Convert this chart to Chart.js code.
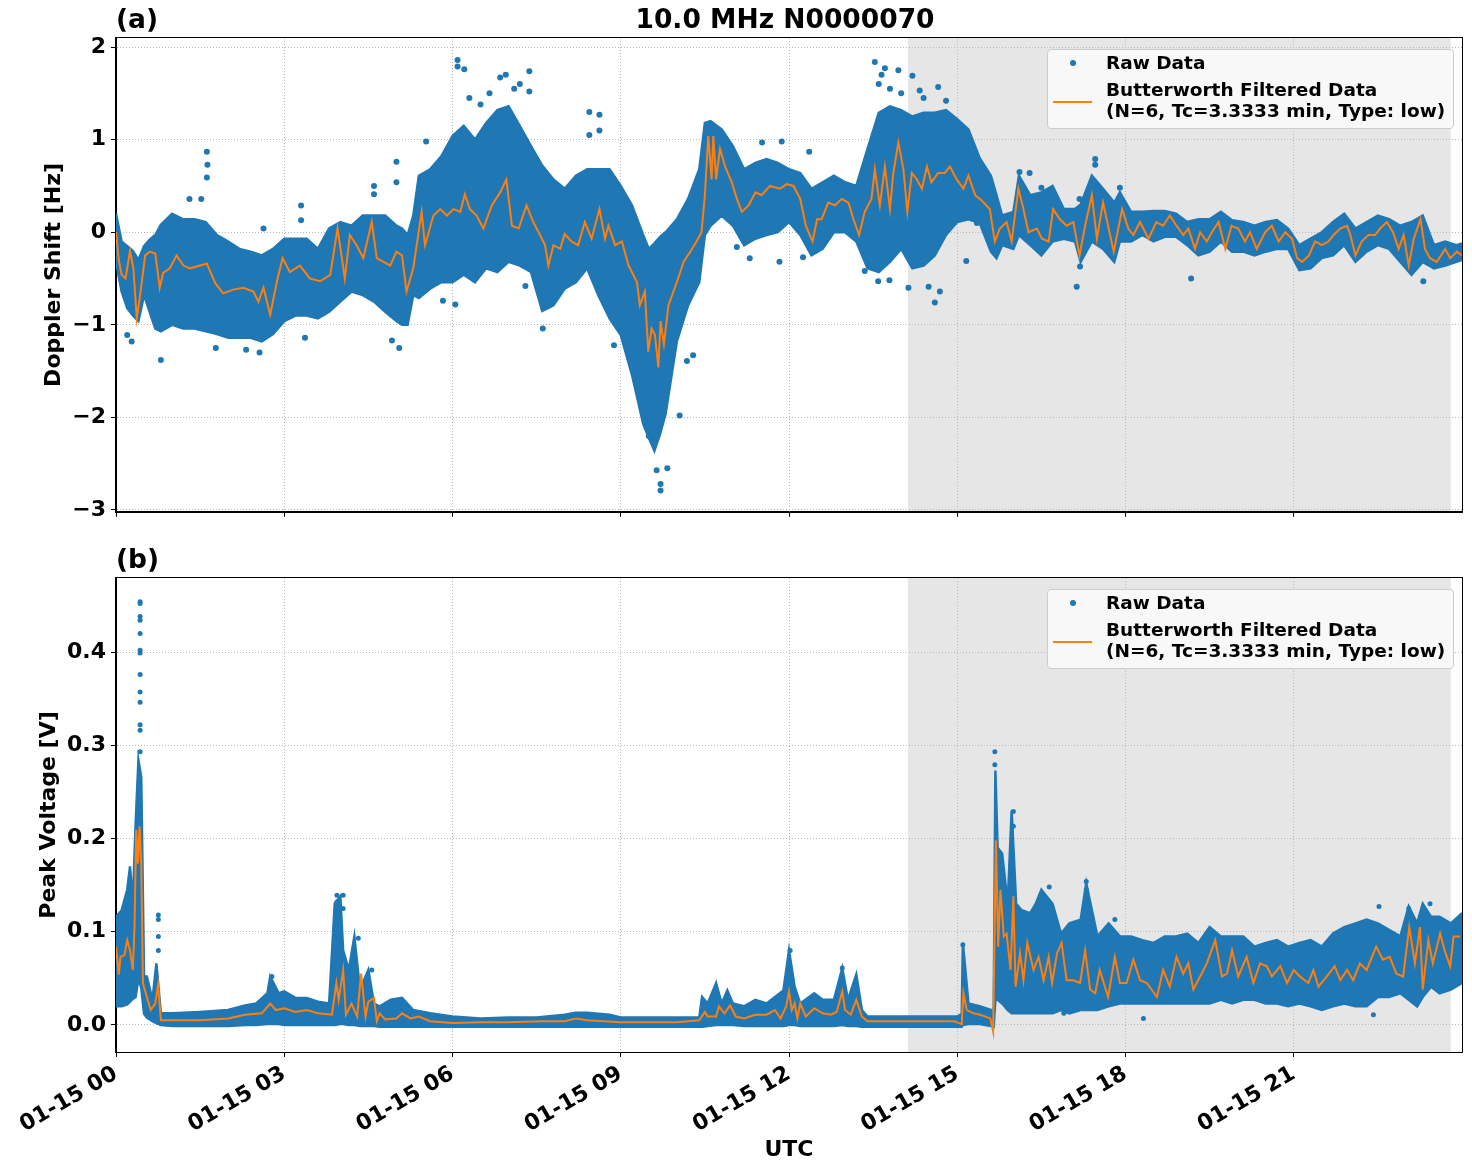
<!DOCTYPE html>
<html><head><meta charset="utf-8">
<script src="https://cdn.jsdelivr.net/npm/chart.js@4.4.1/dist/chart.umd.min.js"></script>
<style>
html,body{margin:0;padding:0;background:#fff;}
body{width:1472px;height:1172px;position:relative;overflow:hidden;font-family:"DejaVu Sans",sans-serif;}
canvas{position:absolute;left:0;}
#ca{top:0;}
#cb{top:540px;}
.t{position:absolute;font-weight:bold;color:#000;white-space:nowrap;font-size:26.5px;line-height:26.5px;}
.leg{position:absolute;left:1047px;width:405px;height:78px;background:rgba(250,250,250,0.85);border:1px solid #cccccc;border-radius:4px;}
.lt{position:absolute;left:1106px;font-weight:bold;font-size:18.5px;line-height:18.5px;white-space:nowrap;color:#000;}
.ld{position:absolute;left:1070px;width:6px;height:6px;border-radius:50%;background:#1f77b4;}
.ll{position:absolute;left:1053px;width:39px;height:2px;background:#ff7f0e;}
</style></head>
<body>
<canvas id="ca" width="1472" height="530"></canvas>
<canvas id="cb" width="1472" height="632"></canvas>
<div class="t" style="left:116px;top:6px;">(a)</div>
<div class="t" style="left:785px;top:6px;transform:translateX(-50%);">10.0 MHz N0000070</div>
<div class="t" style="left:116px;top:546px;">(b)</div>

<div class="leg" style="top:49px;"></div>
<div class="ld" style="top:60px;"></div>
<div class="lt" style="top:53.6px;">Raw Data</div>
<div class="ll" style="top:101px;"></div>
<div class="lt" style="top:81px;">Butterworth Filtered Data</div>
<div class="lt" style="top:101.8px;">(N=6, Tc=3.3333 min, Type: low)</div>

<div class="leg" style="top:589px;"></div>
<div class="ld" style="top:600px;"></div>
<div class="lt" style="top:593.6px;">Raw Data</div>
<div class="ll" style="top:641px;"></div>
<div class="lt" style="top:621px;">Butterworth Filtered Data</div>
<div class="lt" style="top:641.8px;">(N=6, Tc=3.3333 min, Type: low)</div>

<script>
// ---------- axis / tick definitions ----------
const X_TICKS = [0, 3, 6, 9, 12, 15, 18, 21];
const X_MIN = 0, X_MAX = 24;
const TOP_YTICKS = [-3, -2, -1, 0, 1, 2];
const TOP_YMIN = -3.02, TOP_YMAX = 2.098;
const BOT_YTICKS = [0, 0.1, 0.2, 0.3, 0.4];
const BOT_YMIN = -0.029, BOT_YMAX = 0.4794;
const SHADE_START = 14.12, SHADE_END = 23.8;

// ---------- panel (a): Doppler shift ----------
// raw-data cloud envelope (hours UTC, upper edge, lower edge)
const TOP_T  = [0,0.1,0.2,0.3,0.4,0.5,0.6,0.7,0.8,1.0,1.2,1.4,1.6,1.8,2.0,2.2,2.4,2.6,2.8,3.0,3.2,3.4,3.6,3.8,4.0,4.2,4.4,4.6,4.8,5.0,5.1,5.2,5.3,5.4,5.6,5.8,6.0,6.2,6.4,6.6,6.8,7.0,7.2,7.4,7.6,7.8,8.0,8.2,8.4,8.6,8.8,9.0,9.2,9.4,9.5,9.6,9.7,9.8,9.9,10.0,10.2,10.4,10.5,10.6,10.8,11.0,11.2,11.4,11.6,11.8,12.0,12.2,12.4,12.6,12.8,13.0,13.2,13.4,13.6,13.8,14.0,14.2,14.4,14.6,14.8,15.0,15.2,15.4,15.6,15.7,15.8,16.0,16.1,16.3,16.5,16.7,16.9,17.1,17.2,17.4,17.6,17.8,17.9,18.1,18.3,18.5,18.7,18.9,19.1,19.3,19.5,19.7,19.9,20.1,20.3,20.5,20.7,20.9,21.1,21.3,21.5,21.7,21.9,22.1,22.3,22.5,22.7,22.9,23.1,23.3,23.5,23.7,23.9,24.0];
const TOP_UP = [0.20,-0.10,-0.15,-0.20,-0.30,-0.15,-0.08,-0.03,0.08,0.20,0.14,0.14,0.11,-0.03,-0.10,-0.18,-0.21,-0.25,-0.18,-0.07,-0.07,-0.07,-0.18,0.04,0.11,0.07,0.18,0.18,0.18,0.07,0.04,-0.03,0.18,0.61,0.68,0.82,1.04,1.15,1.00,1.18,1.32,1.36,1.15,0.93,0.72,0.57,0.47,0.61,0.68,0.68,0.68,0.50,0.29,-0.03,-0.18,-0.12,-0.05,0.00,0.07,0.14,0.36,0.68,1.18,1.20,1.11,0.93,0.68,0.75,0.79,0.75,0.68,0.64,0.47,0.54,0.61,0.54,0.50,0.90,1.29,1.36,1.32,1.25,1.29,1.29,1.32,1.22,1.11,0.80,0.61,0.40,0.18,0.22,0.61,0.40,0.43,0.50,0.25,0.25,0.30,0.61,0.47,0.32,0.43,0.22,0.22,0.23,0.23,0.20,0.11,0.14,0.14,0.22,0.13,0.11,0.07,0.11,0.13,0.04,-0.14,-0.07,0.00,0.11,0.20,0.04,0.11,0.18,0.14,0.07,0.11,0.18,-0.14,-0.10,-0.14,-0.12];
const TOP_LO = [-0.32,-0.64,-0.82,-0.90,-0.96,-0.68,-0.86,-1.04,-1.07,-1.00,-1.04,-1.04,-1.07,-1.10,-1.14,-1.14,-1.14,-1.18,-1.10,-0.96,-0.90,-0.90,-0.93,-0.86,-0.75,-0.64,-0.68,-0.75,-0.86,-0.96,-1.00,-1.00,-0.68,-0.71,-0.61,-0.54,-0.54,-0.46,-0.54,-0.39,-0.43,-0.32,-0.36,-0.43,-0.85,-0.79,-0.61,-0.54,-0.39,-0.68,-0.93,-1.11,-1.54,-2.07,-2.22,-2.36,-2.18,-1.96,-1.57,-1.18,-0.79,-0.54,-0.03,0.07,0.18,0.07,-0.14,-0.07,-0.03,0.00,0.11,-0.03,-0.25,-0.18,0.00,0.00,-0.10,-0.39,-0.43,-0.32,-0.18,-0.39,-0.36,-0.25,-0.03,0.11,0.14,0.10,-0.21,-0.28,-0.14,-0.18,-0.03,-0.14,-0.25,-0.10,-0.07,-0.10,-0.32,-0.10,-0.18,-0.32,-0.10,-0.10,-0.03,-0.10,-0.05,-0.05,-0.14,-0.25,-0.21,-0.10,-0.21,-0.21,-0.25,-0.21,-0.18,-0.18,-0.41,-0.39,-0.28,-0.25,-0.14,-0.32,-0.21,-0.14,-0.18,-0.32,-0.46,-0.32,-0.39,-0.36,-0.32,-0.30];
// isolated raw points outside the dense cloud
const TOP_OUT_T = [1.62,1.63,1.62,1.31,1.52,0.8,0.28,0.2,5.0,5.0,4.6,4.6,3.3,3.3,2.63,4.92,5.05,2.56,2.32,1.78,3.37,6.09,6.09,6.21,7.37,7.37,6.95,6.85,6.66,5.53,6.05,5.83,7.61,7.3,6.3,6.5,7.1,7.2,8.44,8.62,8.44,8.62,8.88,9.71,9.71,9.64,9.83,9.5,10.05,10.29,10.18,11.07,11.3,11.83,12.25,11.52,11.87,12.36,13.53,13.71,13.95,14.2,14.66,14.33,13.6,13.8,14.0,14.4,14.8,13.65,13.59,13.79,14.13,14.6,14.69,14.49,15.16,15.35,13.35,17.46,17.46,17.9,17.13,16.29,16.11,19.17,23.31,17.18,17.19,16.5];
const TOP_OUT_V = [0.87,0.73,0.59,0.36,0.36,-1.38,-1.18,-1.11,0.76,0.54,0.5,0.41,0.29,0.13,0.04,-1.17,-1.25,-1.3,-1.27,-1.25,-1.14,1.86,1.79,1.76,1.74,1.52,1.7,1.67,1.5,0.98,-0.78,-0.74,-1.04,-0.58,1.45,1.38,1.55,1.6,1.3,1.27,1.05,1.1,-1.22,-2.79,-2.72,-2.57,-2.55,-2.2,-1.98,-1.33,-1.39,-0.16,-0.28,-0.32,-0.27,0.97,0.98,0.87,1.84,1.77,1.75,1.69,1.57,1.53,1.6,1.55,1.5,1.45,1.42,1.7,-0.53,-0.52,-0.6,-0.76,-0.64,-0.59,-0.31,0.1,-0.42,0.79,0.73,0.48,-0.59,0.64,0.65,-0.5,-0.53,0.36,-0.37,0.48];
// Butterworth filtered series
const TOP_FILT_T = [0,0.05,0.1,0.17,0.25,0.31,0.37,0.43,0.52,0.6,0.7,0.78,0.84,0.96,1.08,1.2,1.32,1.5,1.62,1.77,1.91,2.09,2.27,2.45,2.54,2.63,2.75,2.87,2.97,3.1,3.28,3.46,3.64,3.82,3.95,4.08,4.17,4.29,4.41,4.56,4.65,4.77,4.89,5.0,5.1,5.18,5.3,5.45,5.51,5.66,5.78,5.9,6.02,6.14,6.22,6.31,6.43,6.55,6.7,6.85,6.96,7.06,7.18,7.32,7.44,7.56,7.65,7.71,7.8,7.92,8.0,8.12,8.24,8.36,8.48,8.62,8.72,8.78,8.9,9.02,9.14,9.29,9.34,9.43,9.49,9.55,9.61,9.67,9.71,9.77,9.85,9.94,10.0,10.12,10.24,10.35,10.44,10.5,10.56,10.62,10.65,10.7,10.77,10.86,10.98,11.07,11.16,11.28,11.4,11.51,11.66,11.84,11.96,12.08,12.2,12.3,12.42,12.5,12.58,12.7,12.82,12.94,13.06,13.15,13.25,13.35,13.47,13.53,13.62,13.71,13.8,13.86,13.95,14.04,14.11,14.19,14.28,14.37,14.46,14.54,14.66,14.78,14.87,14.99,15.11,15.2,15.32,15.44,15.58,15.67,15.76,15.88,15.97,16.09,16.18,16.27,16.42,16.51,16.63,16.71,16.83,16.95,17.07,17.18,17.28,17.4,17.49,17.6,17.7,17.79,17.94,18.05,18.14,18.26,18.41,18.55,18.67,18.79,18.91,19.03,19.12,19.24,19.33,19.45,19.54,19.66,19.78,19.89,20.01,20.13,20.22,20.34,20.49,20.61,20.73,20.85,20.97,21.06,21.15,21.27,21.38,21.5,21.62,21.71,21.83,21.95,22.01,22.1,22.21,22.33,22.45,22.54,22.66,22.77,22.87,22.96,23.05,23.14,23.26,23.34,23.43,23.55,23.7,23.79,23.91,24.0];
const TOP_FILT = [0.0,-0.3,-0.46,-0.5,-0.2,-0.39,-0.93,-0.68,-0.25,-0.21,-0.23,-0.6,-0.44,-0.39,-0.25,-0.36,-0.39,-0.36,-0.34,-0.55,-0.66,-0.62,-0.6,-0.64,-0.75,-0.6,-0.89,-0.53,-0.28,-0.43,-0.36,-0.5,-0.53,-0.46,0.04,-0.5,-0.03,-0.14,-0.28,0.11,-0.28,-0.32,-0.36,-0.21,-0.25,-0.64,-0.39,0.22,-0.14,0.18,0.25,0.18,0.25,0.22,0.41,0.25,0.18,0.04,0.29,0.43,0.57,0.07,0.04,0.29,0.11,-0.03,-0.14,-0.36,-0.14,-0.18,-0.02,-0.1,-0.14,0.11,-0.07,0.25,-0.07,0.07,-0.14,-0.1,-0.36,-0.54,-0.79,-0.64,-1.29,-1.04,-1.11,-1.46,-0.96,-1.21,-0.79,-0.64,-0.54,-0.32,-0.21,-0.1,0.0,0.4,1.04,0.57,1.04,0.57,0.9,0.71,0.54,0.36,0.22,0.29,0.43,0.4,0.5,0.47,0.52,0.5,0.36,0.07,-0.1,0.14,0.14,0.32,0.29,0.36,0.32,0.14,-0.03,0.22,0.36,0.68,0.29,0.71,0.25,0.64,0.97,0.68,0.22,0.64,0.57,0.47,0.71,0.54,0.64,0.64,0.71,0.57,0.47,0.61,0.4,0.34,0.25,-0.1,0.04,0.11,-0.1,0.47,0.25,0.0,0.04,-0.07,-0.1,0.25,0.14,0.07,0.11,-0.25,0.07,0.4,-0.07,0.32,0.04,-0.21,0.25,0.04,-0.03,0.11,-0.07,0.11,0.07,0.18,0.07,-0.03,0.04,-0.18,0.0,-0.1,0.0,0.11,-0.18,0.07,0.04,-0.1,0.0,-0.18,0.0,0.07,-0.1,0.0,-0.07,-0.28,-0.32,-0.25,-0.1,-0.14,-0.1,-0.03,0.04,0.07,-0.03,-0.25,-0.1,-0.03,-0.03,0.04,0.11,0.0,-0.18,-0.03,-0.36,-0.07,0.14,-0.18,-0.28,-0.32,-0.18,-0.28,-0.21,-0.25];

// ---------- panel (b): peak voltage ----------
const BOT_T  = [0,0.1,0.2,0.25,0.3,0.35,0.4,0.45,0.5,0.55,0.65,0.72,0.8,1.0,1.5,2.0,2.3,2.5,2.7,2.75,2.9,3.0,3.2,3.4,3.6,3.8,3.9,4.0,4.05,4.15,4.25,4.35,4.5,4.6,4.7,4.9,5.1,5.3,5.6,6.0,6.5,7.0,7.5,8.0,8.2,8.4,8.8,9.0,10.4,10.45,10.55,10.7,10.8,10.9,11.0,11.2,11.4,11.6,11.75,11.9,12.0,12.1,12.2,12.45,12.6,12.8,12.95,13.05,13.2,13.3,13.4,15.0,15.08,15.1,15.2,15.4,15.6,15.65,15.68,15.72,15.8,15.9,15.97,16.05,16.15,16.3,16.4,16.5,16.7,16.85,17.0,17.2,17.3,17.5,17.7,17.9,18.1,18.3,18.5,18.7,18.9,19.1,19.3,19.5,19.7,19.9,20.1,20.3,20.5,20.7,20.9,21.1,21.3,21.5,21.7,21.9,22.1,22.3,22.5,22.7,22.9,23.05,23.2,23.3,23.45,23.6,23.8,24.0];
const BOT_UP = [0.116,0.123,0.145,0.170,0.130,0.216,0.284,0.266,0.052,0.052,0.027,0.066,0.0125,0.0125,0.014,0.016,0.021,0.023,0.034,0.052,0.034,0.036,0.029,0.029,0.025,0.023,0.130,0.138,0.080,0.059,0.095,0.038,0.059,0.023,0.020,0.027,0.029,0.016,0.0125,0.009,0.007,0.008,0.008,0.011,0.013,0.013,0.011,0.008,0.008,0.030,0.023,0.045,0.023,0.037,0.023,0.020,0.027,0.023,0.030,0.037,0.080,0.041,0.023,0.034,0.027,0.027,0.061,0.027,0.054,0.016,0.009,0.009,0.012,0.088,0.023,0.020,0.016,0.016,0.273,0.190,0.184,0.130,0.230,0.130,0.123,0.120,0.130,0.145,0.130,0.098,0.109,0.113,0.152,0.095,0.109,0.095,0.095,0.091,0.088,0.095,0.095,0.098,0.088,0.105,0.095,0.095,0.095,0.084,0.088,0.091,0.084,0.088,0.091,0.084,0.098,0.105,0.109,0.113,0.109,0.102,0.095,0.127,0.109,0.130,0.116,0.116,0.109,0.120];
const BOT_LO = [0.020,0.020,0.022,0.025,0.028,0.030,0.050,0.040,0.012,0.008,0.004,0.002,0.000,-0.001,-0.001,-0.001,0.000,0.000,0.001,0.001,0.001,0.000,0.000,0.000,0.000,0.000,0.000,0.001,0.001,0.000,0.000,-0.001,-0.001,-0.001,-0.002,-0.002,-0.002,-0.002,-0.002,-0.002,-0.002,-0.002,-0.002,-0.002,-0.002,-0.002,-0.002,-0.002,-0.002,-0.002,-0.001,0.000,0.000,0.000,0.000,-0.001,-0.001,-0.001,-0.001,-0.001,0.000,0.000,-0.001,-0.001,-0.001,-0.001,0.000,-0.001,-0.001,-0.002,-0.002,-0.002,-0.002,0.000,0.001,0.001,-0.001,-0.002,0.027,0.027,0.023,0.016,0.0125,0.0125,0.0125,0.0125,0.0125,0.0125,0.0125,0.016,0.0125,0.016,0.016,0.016,0.020,0.023,0.023,0.023,0.023,0.023,0.023,0.023,0.023,0.023,0.027,0.023,0.027,0.027,0.023,0.023,0.020,0.023,0.020,0.016,0.020,0.023,0.020,0.020,0.030,0.030,0.034,0.027,0.020,0.030,0.041,0.034,0.038,0.045];
const BOT_OUT_T = [0.43,0.43,0.43,0.43,0.43,0.43,0.43,0.43,0.43,0.43,0.43,0.43,0.43,0.755,0.755,0.755,0.755,3.94,3.94,4.05,4.05,3.97,4.32,4.56,2.78,15.67,15.67,16.0,16.0,16.64,16.64,17.3,17.3,22.52,23.43,23.05,17.81,18.32,22.42,16.9,15.1,12.02,12.95];
const BOT_OUT_V = [0.454,0.452,0.438,0.434,0.42,0.402,0.399,0.376,0.357,0.346,0.322,0.316,0.293,0.118,0.113,0.095,0.08,0.139,0.132,0.139,0.125,0.12,0.093,0.059,0.052,0.293,0.279,0.229,0.213,0.148,0.132,0.154,0.145,0.127,0.13,0.125,0.113,0.007,0.011,0.0125,0.086,0.08,0.061];
const BOT_FILT_T = [0,0.05,0.08,0.15,0.2,0.25,0.3,0.33,0.36,0.39,0.42,0.45,0.48,0.55,0.62,0.7,0.75,0.8,1.0,1.5,2.0,2.3,2.6,2.75,2.85,3.0,3.2,3.4,3.6,3.85,3.93,3.97,4.05,4.1,4.2,4.3,4.37,4.45,4.5,4.6,4.65,4.7,4.8,5.0,5.1,5.25,5.4,5.6,6.0,6.5,7.0,7.6,8.0,8.2,8.4,9.0,10.0,10.4,10.5,10.55,10.7,10.75,10.85,10.95,11.05,11.2,11.4,11.6,11.75,11.85,11.95,12.0,12.05,12.1,12.15,12.2,12.3,12.45,12.6,12.75,12.85,12.95,13.0,13.1,13.2,13.3,13.4,14.0,14.95,15.03,15.08,15.11,15.17,15.29,15.41,15.59,15.64,15.69,15.73,15.77,15.83,15.88,15.95,16.0,16.04,16.12,16.18,16.25,16.36,16.45,16.54,16.63,16.69,16.78,16.86,16.95,17.07,17.19,17.28,17.37,17.46,17.54,17.69,17.81,17.9,18.02,18.14,18.26,18.38,18.56,18.67,18.79,18.91,19.03,19.12,19.21,19.33,19.45,19.6,19.72,19.81,19.9,20.01,20.16,20.28,20.4,20.52,20.61,20.76,20.88,21.0,21.11,21.26,21.35,21.44,21.59,21.73,21.83,21.95,22.06,22.18,22.3,22.47,22.59,22.71,22.83,22.95,23.06,23.16,23.25,23.3,23.4,23.48,23.61,23.69,23.79,23.85,23.97];
const BOT_FILT = [0.084,0.054,0.073,0.075,0.091,0.08,0.059,0.105,0.209,0.173,0.213,0.173,0.045,0.03,0.016,0.023,0.043,0.005,0.005,0.005,0.007,0.011,0.0125,0.023,0.016,0.018,0.014,0.016,0.0125,0.011,0.045,0.027,0.059,0.011,0.023,0.009,0.055,0.009,0.025,0.029,0.004,0.0125,0.006,0.007,0.0125,0.007,0.009,0.004,0.002,0.003,0.003,0.004,0.004,0.007,0.005,0.003,0.003,0.005,0.014,0.009,0.009,0.02,0.0125,0.021,0.009,0.007,0.011,0.011,0.016,0.007,0.02,0.036,0.016,0.023,0.007,0.023,0.009,0.018,0.0125,0.011,0.014,0.036,0.016,0.011,0.027,0.009,0.004,0.004,0.004,0.002,0.001,0.034,0.016,0.0125,0.011,0.007,-0.007,0.198,0.084,0.145,0.095,0.098,0.059,0.138,0.041,0.077,0.048,0.088,0.059,0.073,0.048,0.073,0.045,0.077,0.088,0.048,0.048,0.045,0.08,0.038,0.034,0.059,0.03,0.073,0.045,0.045,0.07,0.048,0.045,0.03,0.059,0.041,0.073,0.055,0.066,0.038,0.052,0.066,0.091,0.052,0.055,0.08,0.052,0.073,0.045,0.066,0.063,0.052,0.063,0.045,0.059,0.052,0.045,0.059,0.041,0.052,0.063,0.048,0.059,0.048,0.066,0.059,0.084,0.07,0.073,0.055,0.052,0.105,0.066,0.105,0.038,0.091,0.066,0.098,0.08,0.063,0.095,0.095];

// ---------- drawing ----------
const BLUE = '#1f77b4', ORANGE = '#ff7f0e';
const FONT = 'DejaVu Sans';
const FS = 22;
Chart.defaults.font.family = FONT;
Chart.defaults.font.weight = 'bold';
Chart.defaults.color = '#000';

function pts(t, v) { return t.map((x, i) => ({ x: x, y: v[i] })); }

const shadePlugin = {
  id: 'shade',
  beforeDraw(chart) {
    const { ctx, chartArea: a, scales } = chart;
    const x0 = scales.x.getPixelForValue(SHADE_START);
    const x1 = scales.x.getPixelForValue(SHADE_END);
    ctx.save();
    ctx.fillStyle = '#e6e6e6';
    ctx.fillRect(x0, a.top, x1 - x0, a.bottom - a.top);
    ctx.restore();
  }
};
const framePlugin = {
  id: 'frame',
  afterDraw(chart) {
    const { ctx, chartArea: a } = chart;
    ctx.save();
    ctx.strokeStyle = '#000';
    ctx.lineWidth = 1;
    ctx.setLineDash([]);
    ctx.strokeRect(Math.round(a.left) - 0.5, Math.round(a.top) - 0.5, Math.round(a.right - a.left) + 1, Math.round(a.bottom - a.top) + 1);
    ctx.restore();
  }
};

function makePanel(id, o) {
  const datasets = [
    { label: 'Butterworth Filtered Data', data: pts(o.ft, o.fv), borderColor: ORANGE, borderWidth: 2, pointRadius: 0, fill: false, tension: 0, clip: 0 },
    { label: 'Raw Data (isolated)', data: pts(o.ot, o.ov), showLine: false, pointRadius: o.dot, pointBackgroundColor: BLUE, pointBorderWidth: 0, borderColor: BLUE, clip: 0 },
    { label: 'Raw upper', data: pts(o.et, o.eu), borderColor: BLUE, borderWidth: 2.5, pointRadius: 0, fill: '+1', backgroundColor: BLUE, tension: 0, clip: 0 },
    { label: 'Raw lower', data: pts(o.et, o.el), borderColor: BLUE, borderWidth: 2.5, pointRadius: 0, fill: false, tension: 0, clip: 0 }
  ];
  const gridCommon = { color: '#b8b8b8', lineWidth: 1, drawTicks: true, tickLength: 5, tickColor: '#000', tickWidth: 1, borderDash: [1, 2] };
  const f = { size: FS, weight: 'bold', family: FONT };
  return new Chart(document.getElementById(id), {
    type: 'line',
    data: { datasets },
    plugins: [shadePlugin, framePlugin],
    options: {
      responsive: false, animation: false, devicePixelRatio: 1,
      layout: { padding: { top: 38, right: 10, left: 0, bottom: 0 } },
      plugins: { legend: { display: false }, tooltip: { enabled: false } },
      scales: {
        x: {
          type: 'linear', min: X_MIN, max: X_MAX,
          grid: gridCommon,
          border: { display: true, color: '#000', dash: [1, 2] },
          afterBuildTicks: s => { s.ticks = X_TICKS.map(v => ({ value: v })); },
          afterFit: s => { s.height = o.xh; },
          ticks: {
            display: o.xlabels, autoSkip: false, maxRotation: 30, minRotation: 30, padding: 4,
            font: f, color: '#000',
            callback: v => '01-15 ' + String(v).padStart(2, '0')
          },
          title: { display: o.xlabels, text: 'UTC', font: f, color: '#000', padding: { top: 0, bottom: 8.8 } }
        },
        y: {
          type: 'linear', min: o.ymin, max: o.ymax,
          grid: gridCommon,
          border: { display: true, color: '#000', dash: [1, 2] },
          afterBuildTicks: s => { s.ticks = o.yticks.map(v => ({ value: v })); },
          afterFit: s => { s.width = 116; },
          ticks: { padding: 5, font: f, color: '#000', callback: o.yfmt },
          title: { display: true, text: o.ytitle, font: f, color: '#000', padding: { top: o.ytpad, bottom: 0 } }
        }
      }
    }
  });
}

makePanel('ca', {
  ft: TOP_FILT_T, fv: TOP_FILT, ot: TOP_OUT_T, ov: TOP_OUT_V, et: TOP_T, eu: TOP_UP, el: TOP_LO,
  dot: 3, xh: 15, xlabels: false, ymin: TOP_YMIN, ymax: TOP_YMAX, yticks: TOP_YTICKS,
  yfmt: v => (v < 0 ? '\u2212' + Math.abs(v) : String(v)),
  ytitle: 'Doppler Shift [Hz]', ytpad: 40.8
});
makePanel('cb', {
  ft: BOT_FILT_T, fv: BOT_FILT, ot: BOT_OUT_T, ov: BOT_OUT_V, et: BOT_T, eu: BOT_UP, el: BOT_LO,
  dot: 2.5, xh: 120, xlabels: true, ymin: BOT_YMIN, ymax: BOT_YMAX, yticks: BOT_YTICKS,
  yfmt: v => Number(v).toFixed(1),
  ytitle: 'Peak Voltage [V]', ytpad: 35.8
});
</script>
</body></html>
